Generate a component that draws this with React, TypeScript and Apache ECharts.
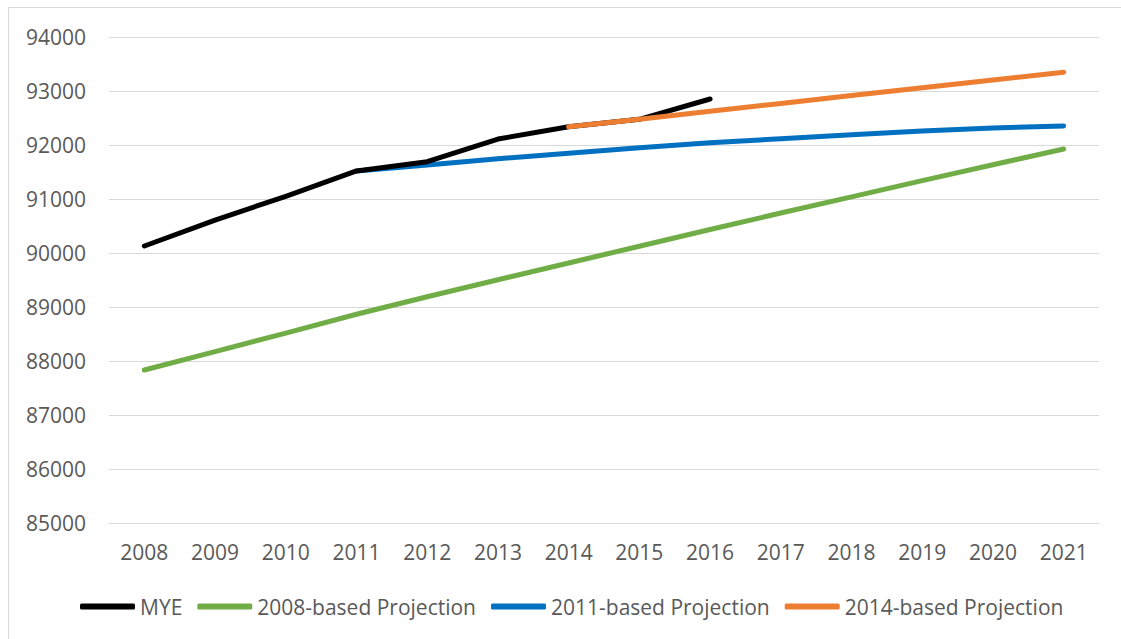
import React, { useEffect, useRef } from "react";
import * as echarts from "echarts";

const years = ["2008","2009","2010","2011","2012","2013","2014","2015","2016","2017","2018","2019","2020","2021"];
const mye = [90130, 90610, 91050, 91519, 91690, 92110, 92339, 92476, 92852, null, null, null, null, null];
const proj2008 = [87833, 88175, 88515, 88865, 89190, 89505, 89815, 90125, 90435, 90740, 91040, 91340, 91635, 91926];
const proj2011 = [null, null, null, 91519, 91630, 91746, 91846, 91950, 92040, 92115, 92190, 92260, 92315, 92352];
const proj2014 = [null, null, null, null, null, null, 92339, 92476, 92625, 92770, 92915, 93060, 93205, 93346];

const FONT = "'Open Sans', 'Noto Sans', sans-serif";

export default function App() {
  const ref = useRef<HTMLDivElement>(null);
  useEffect(() => {
    if (!ref.current) return;
    const chart = echarts.init(ref.current, undefined, { renderer: "svg" });
    const mk = (name: string, data: any[], color: string) => ({
      name,
      type: "line",
      data,
      symbol: "none",
      smooth: false,
      connectNulls: false,
      lineStyle: { color, width: 5, cap: "round", join: "round" },
      itemStyle: { color },
    });
    chart.setOption({
      animation: false,
      backgroundColor: "#ffffff",
      grid: { left: 100, right: 22, top: 29, bottom: 116, containLabel: false },
      xAxis: {
        type: "category",
        data: years,
        boundaryGap: true,
        axisLine: { show: true, lineStyle: { color: "#d9d9d9", width: 1 } },
        axisTick: { show: false },
        axisLabel: { color: "#595959", fontSize: 21, fontFamily: FONT, margin: 18 },
      },
      yAxis: {
        type: "value",
        min: 85000,
        max: 94000,
        interval: 1000,
        axisLine: { show: false },
        axisTick: { show: false },
        splitLine: { lineStyle: { color: "#d9d9d9", width: 1 } },
        axisLabel: {
          color: "#595959",
          fontSize: 21,
          fontFamily: FONT,
          margin: 23,
          formatter: (v: number) => String(v),
        },
      },
      legend: {
        left: 71,
        top: 588,
        padding: 0,
        itemWidth: 55,
        itemHeight: 6,
        itemGap: 15,
        icon: "roundRect",
        textStyle: { color: "#595959", fontSize: 21, fontFamily: FONT },
        data: ["MYE", "2008-based Projection", "2011-based Projection", "2014-based Projection"],
      },
      series: [
        mk("2008-based Projection", proj2008, "#70ad47"),
        mk("2011-based Projection", proj2011, "#0070c0"),
        mk("MYE", mye, "#000000"),
        mk("2014-based Projection", proj2014, "#ed7d31"),
      ],
    });
    return () => chart.dispose();
  }, []);
  return (
    <div
      style={{
        position: "absolute",
        left: 8,
        top: 7,
        width: 1113,
        height: 632,
        boxSizing: "border-box",
        borderTop: "1px solid #d9d9d9",
        borderLeft: "1px solid #d9d9d9",
        background: "#fff",
      }}
    >
      <div ref={ref} style={{ width: 1112, height: 631 }} />
    </div>
  );
}
